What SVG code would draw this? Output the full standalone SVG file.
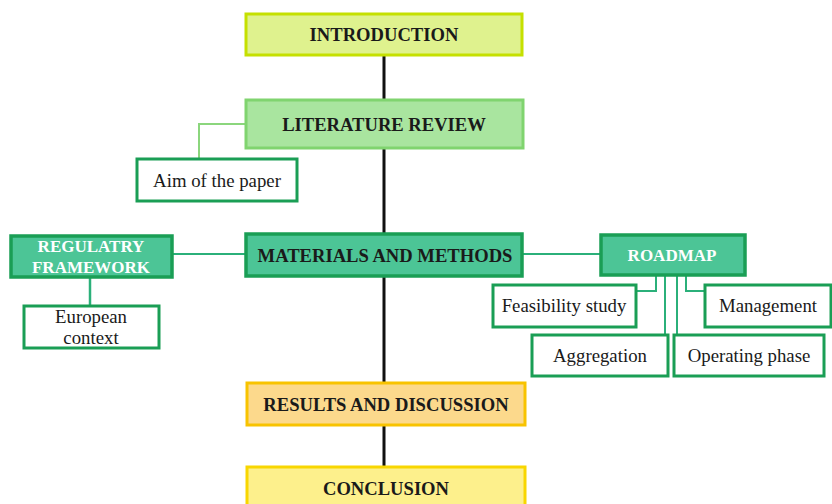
<svg xmlns="http://www.w3.org/2000/svg" width="832" height="504" viewBox="0 0 832 504">
<style>
.t{font-family:'Liberation Serif','DejaVu Serif',serif;font-weight:bold;font-size:18.6px;text-anchor:middle;fill:#1a1a1a}
.tw{font-family:'Liberation Serif','DejaVu Serif',serif;font-weight:bold;font-size:17px;text-anchor:middle;fill:#ffffff}
.s{font-family:'Liberation Serif','DejaVu Serif',serif;font-size:18.8px;text-anchor:middle;fill:#1a1a1a}
.wb{fill:#ffffff;stroke:#1a9e55;stroke-width:3}
.dk{fill:#4cc596;stroke:#1a9e55;stroke-width:3.5}
</style>
<rect width="832" height="504" fill="#ffffff"/>
<g id="connectors" fill="none">
<line x1="384" y1="55" x2="384" y2="467" stroke="#111111" stroke-width="3"/>
<polyline points="246,124 199,124 199,159" stroke="#8bd67d" stroke-width="2"/>
<line x1="172" y1="254" x2="246" y2="254" stroke="#2bb07a" stroke-width="2"/>
<line x1="90" y1="277" x2="90" y2="306" stroke="#2bb07a" stroke-width="2.5"/>
<line x1="522" y1="254" x2="601" y2="254" stroke="#2bb07a" stroke-width="2"/>
<polyline points="656,275 656,291 636,291" stroke="#2bb07a" stroke-width="2"/>
<polyline points="686,275 686,291 705,291" stroke="#2bb07a" stroke-width="2"/>
<line x1="665" y1="275" x2="665" y2="335" stroke="#2bb07a" stroke-width="2"/>
<line x1="677" y1="275" x2="677" y2="335" stroke="#2bb07a" stroke-width="2"/>
</g>
<g id="introduction">
<rect x="246" y="14" width="276" height="41" fill="#dff28e" stroke="#c5e000" stroke-width="3"/>
<text class="t" x="384" y="41">INTRODUCTION</text>
</g>
<g id="literature-review">
<rect x="246" y="100" width="277" height="48" fill="#a9e59f" stroke="#80d46f" stroke-width="3"/>
<text class="t" x="384" y="131">LITERATURE REVIEW</text>
</g>
<g id="aim">
<rect class="wb" x="137" y="159" width="160" height="42" stroke="#6cc95e" stroke-width="2.5"/>
<text class="s" x="217" y="187">Aim of the paper</text>
</g>
<g id="materials-methods">
<rect class="dk" x="246" y="234" width="276" height="42"/>
<text class="t" x="385" y="262">MATERIALS AND METHODS</text>
</g>
<g id="regulatory-framework">
<rect class="dk" x="11" y="236" width="161" height="41"/>
<text class="tw" x="91" y="252">REGULATRY</text>
<text class="tw" x="91" y="273">FRAMEWORK</text>
</g>
<g id="european-context">
<rect class="wb" x="24" y="306" width="135" height="42"/>
<text class="s" x="91" y="323">European</text>
<text class="s" x="91" y="344">context</text>
</g>
<g id="roadmap">
<rect class="dk" x="601" y="235" width="144" height="40"/>
<text class="tw" x="672" y="261">ROADMAP</text>
</g>
<g id="feasibility">
<rect class="wb" x="493" y="285" width="143" height="42"/>
<text class="s" x="564" y="312">Feasibility study</text>
</g>
<g id="management">
<rect class="wb" x="705" y="285" width="126" height="42"/>
<text class="s" x="768" y="312">Management</text>
</g>
<g id="aggregation">
<rect class="wb" x="532" y="335" width="136" height="41"/>
<text class="s" x="600" y="362">Aggregation</text>
</g>
<g id="operating-phase">
<rect class="wb" x="674" y="335" width="150" height="41"/>
<text class="s" x="749" y="362">Operating phase</text>
</g>
<g id="results-discussion">
<rect x="247" y="383" width="278" height="42" fill="#fcd98c" stroke="#f8c300" stroke-width="3"/>
<text class="t" x="386" y="411">RESULTS AND DISCUSSION</text>
</g>
<g id="conclusion">
<rect x="247" y="467" width="278" height="45" fill="#fdf08c" stroke="#f8d600" stroke-width="3"/>
<text class="t" x="386" y="495">CONCLUSION</text>
</g>
</svg>
